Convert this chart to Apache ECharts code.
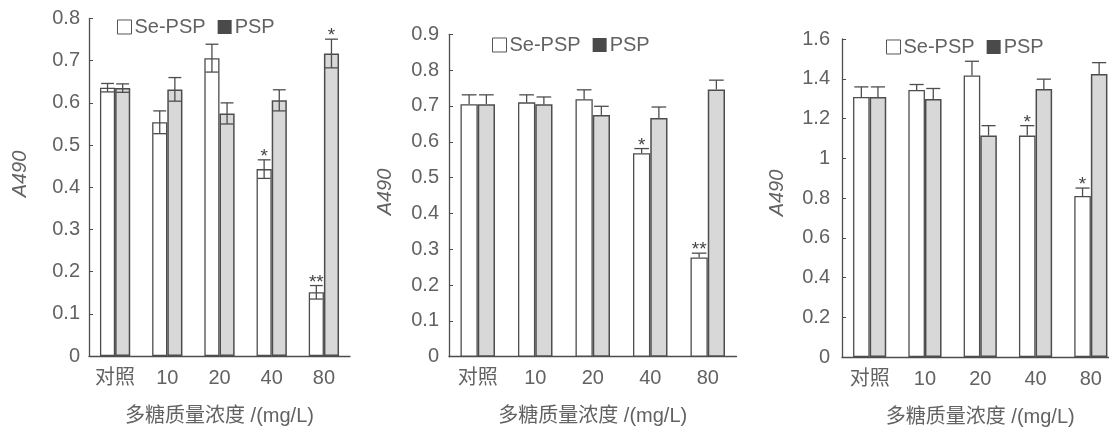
<!DOCTYPE html>
<html>
<head>
<meta charset="utf-8">
<script src="https://cdn.jsdelivr.net/npm/echarts@6/dist/echarts.min.js"></script>
<style>
html,body{margin:0;padding:0;background:#fff;overflow:hidden;width:1109px;height:432px;}
#chart{width:1124px;height:432px;}
</style>
</head>
<body>
<div id="chart"></div>
<script>
// ---- data ----
var categories = ['对照', '10', '20', '40', '80'];
var legendNames = ['Se-PSP', 'PSP'];
var yAxisTitle = 'A490';
var xAxisTitle = '多糖质量浓度 /(mg/L)';

// Panel 1
var p1Se = [0.636, 0.554, 0.706, 0.443, 0.151];
var p1SeErr = [0.010, 0.027, 0.033, 0.022, 0.016];
var p1SeStar = ['', '', '', '*', '**'];
var p1Psp = [0.635, 0.632, 0.575, 0.606, 0.717];
var p1PspErr = [0.010, 0.028, 0.025, 0.025, 0.034];
var p1PspStar = ['', '', '', '', '*'];
var p1YMax = 0.8, p1YStep = 0.1;

// Panel 2
var p2Se = [0.705, 0.710, 0.719, 0.568, 0.277];
var p2SeErr = [0.026, 0.021, 0.026, 0.013, 0.012];
var p2SeStar = ['', '', '', '*', '**'];
var p2Psp = [0.705, 0.705, 0.675, 0.666, 0.746];
var p2PspErr = [0.026, 0.020, 0.024, 0.031, 0.026];
var p2PspStar = ['', '', '', '', ''];
var p2YMax = 0.9, p2YStep = 0.1;

// Panel 3
var p3Se = [1.308, 1.344, 1.416, 1.114, 0.810];
var p3SeErr = [0.051, 0.027, 0.072, 0.050, 0.040];
var p3SeStar = ['', '', '', '*', '*'];
var p3Psp = [1.308, 1.298, 1.114, 1.349, 1.424];
var p3PspErr = [0.051, 0.053, 0.050, 0.049, 0.057];
var p3PspStar = ['', '', '', '', ''];
var p3YMax = 1.6, p3YStep = 0.2;

// ---- styling ----
var FONT = "'Liberation Sans', 'Noto Sans CJK SC', sans-serif";
var FS = 20;
var TXT = '#626262';
var LINE = '#4d4d4d';
var PSP_FILL = '#d8d8d8';

var panels = [
  {se: p1Se, seErr: p1SeErr, seStar: p1SeStar, psp: p1Psp, pspErr: p1PspErr, pspStar: p1PspStar,
   max: p1YMax, step: p1YStep, grid: {left: 89, top: 18.5, width: 261, height: 337.5},
   bw: 0.29, both: true, labelMargin: 9, legend: {left: 112, top: 12}, yName: [20, 174]},
  {se: p2Se, seErr: p2SeErr, seStar: p2SeStar, psp: p2Psp, pspErr: p2PspErr, pspStar: p2PspStar,
   max: p2YMax, step: p2YStep, grid: {left: 449, top: 34.3, width: 287.5, height: 322.4},
   bw: 0.30, both: false, labelMargin: 10, legend: {left: 487, top: 30}, yName: [385, 192]},
  {se: p3Se, seErr: p3SeErr, seStar: p3SeStar, psp: p3Psp, pspErr: p3PspErr, pspStar: p3PspStar,
   max: p3YMax, step: p3YStep, grid: {left: 842, top: 39, width: 276.5, height: 319.3},
   bw: 0.30, both: false, labelMargin: 12, legend: {left: 881, top: 32}, yName: [777, 193]}
];

function errRenderer(sign, pct, both, stars) {
  return function (params, api) {
    var cat = api.value(0), val = api.value(1), err = api.value(2);
    var star = stars[params.dataIndex];
    var band = api.size([1, 0])[0];
    var half = band * pct / 2;
    var cx = api.coord([cat, val])[0] + sign * half;
    var yTop = api.coord([cat, val + err])[1];
    var yMid = api.coord([cat, val])[1];
    var yBot = both ? api.coord([cat, val - err])[1] : yMid;
    var cap = half * 0.85;
    var style = {stroke: LINE, lineWidth: 1.3, fill: null};
    var children = [
      {type: 'line', shape: {x1: cx, y1: yTop, x2: cx, y2: yBot}, style: style},
      {type: 'line', shape: {x1: cx - cap, y1: yTop, x2: cx + cap, y2: yTop}, style: style}
    ];
    if (both) {
      children.push({type: 'line', shape: {x1: cx - cap, y1: yBot, x2: cx + cap, y2: yBot}, style: style});
    }
    if (star) {
      children.push({type: 'text', x: cx, y: yTop - 3,
        style: {text: star, fontSize: 19, fontFamily: FONT, fill: '#444', align: 'center', verticalAlign: 'middle'}});
    }
    return {type: 'group', children: children};
  };
}

var grids = [], xAxes = [], yAxes = [], series = [], legends = [], graphics = [];
panels.forEach(function (p, i) {
  grids.push(p.grid);
  xAxes.push({
    type: 'category', gridIndex: i, data: categories, boundaryGap: true,
    name: xAxisTitle, nameLocation: 'middle', nameGap: 50,
    nameTextStyle: {color: TXT, fontSize: FS, fontFamily: FONT},
    axisLine: {lineStyle: {color: LINE, width: 1.3}},
    axisTick: {inside: true, length: 4, lineStyle: {color: LINE}},
    axisLabel: {color: TXT, fontSize: FS, fontFamily: FONT, margin: 12, interval: 0}
  });
  yAxes.push({
    type: 'value', gridIndex: i, min: 0, max: p.max, interval: p.step,
    splitLine: {show: false},
    axisLine: {show: true, lineStyle: {color: LINE, width: 1.3}},
    axisTick: {show: true, inside: true, length: 4, lineStyle: {color: LINE}},
    axisLabel: {color: TXT, fontSize: FS, fontFamily: FONT, margin: p.labelMargin}
  });
  var bwStr = (p.bw * 100) + '%';
  series.push({
    type: 'bar', name: legendNames[0], xAxisIndex: i, yAxisIndex: i, data: p.se,
    barWidth: bwStr, barGap: '0%',
    itemStyle: {color: '#ffffff', borderColor: LINE, borderWidth: 1.3}
  });
  series.push({
    type: 'bar', name: legendNames[1], xAxisIndex: i, yAxisIndex: i, data: p.psp,
    barWidth: bwStr, barGap: '0%',
    itemStyle: {color: PSP_FILL, borderColor: LINE, borderWidth: 1.5}
  });
  series.push({
    type: 'custom', name: 'errSe' + i, xAxisIndex: i, yAxisIndex: i, z: 5,
    renderItem: errRenderer(-1, p.bw, p.both, p.seStar),
    encode: {x: 0, y: 1},
    data: p.se.map(function (v, k) { return [k, v, p.seErr[k]]; })
  });
  series.push({
    type: 'custom', name: 'errPsp' + i, xAxisIndex: i, yAxisIndex: i, z: 5,
    renderItem: errRenderer(1, p.bw, p.both, p.pspStar),
    encode: {x: 0, y: 1},
    data: p.psp.map(function (v, k) { return [k, v, p.pspErr[k]]; })
  });
  legends.push({
    left: p.legend.left, top: p.legend.top, orient: 'horizontal',
    itemWidth: 14, itemHeight: 14, itemGap: 12, icon: 'rect', selectedMode: false,
    textStyle: {color: TXT, fontSize: FS, fontFamily: FONT, padding: [0, 0, 0, -2]},
    data: [
      {name: legendNames[0], itemStyle: {color: '#ffffff', borderColor: '#555', borderWidth: 1}},
      {name: legendNames[1], itemStyle: {color: '#4a4a4a', borderWidth: 0}}
    ]
  });
  graphics.push({
    type: 'text', x: p.yName[0], y: p.yName[1], rotation: Math.PI / 2,
    style: {text: yAxisTitle, fontSize: FS, fontStyle: 'italic', fontFamily: FONT, fill: TXT,
            align: 'center', verticalAlign: 'middle'}
  });
});

var chart = echarts.init(document.getElementById('chart'), null, {renderer: 'canvas'});
chart.setOption({
  backgroundColor: '#ffffff',
  animation: false,
  grid: grids,
  xAxis: xAxes,
  yAxis: yAxes,
  legend: legends,
  graphic: graphics,
  series: series
});
</script>
</body>
</html>
